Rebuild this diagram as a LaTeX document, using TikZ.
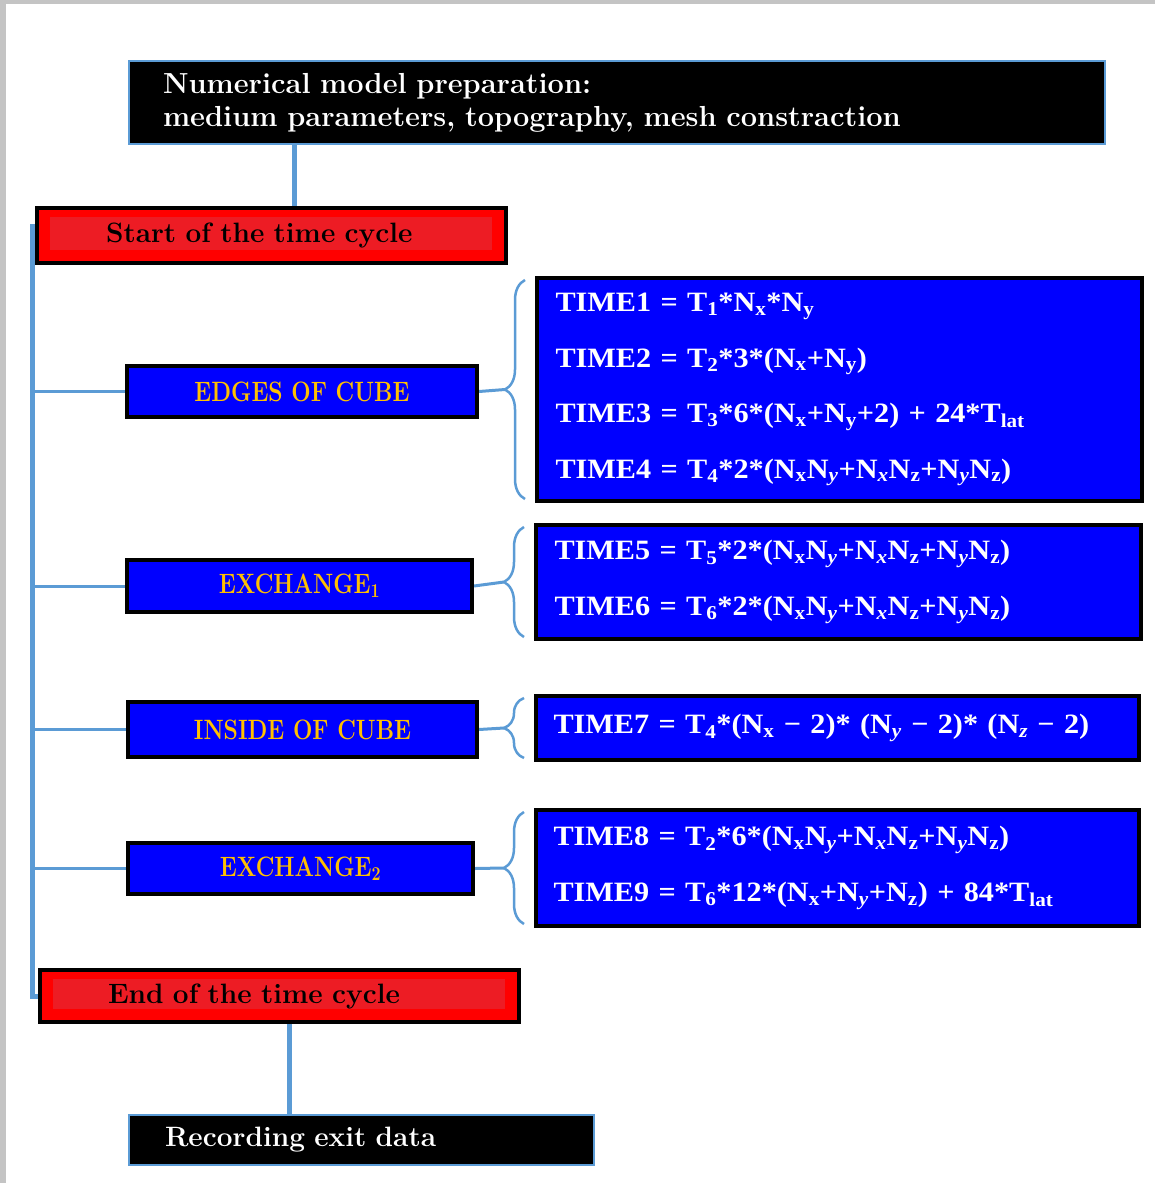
\documentclass[tikz,border=0pt]{standalone}
\usepackage{fontspec}
\usepackage{graphicx}
\newfontfamily\formfont[FakeStretch=1.08]{Liberation Serif}
\usetikzlibrary{positioning, calc, backgrounds, decorations.pathreplacing}
\definecolor{LinkBlue}{HTML}{5B9BD5}
\definecolor{BoxBlue}{HTML}{0000FF}
\definecolor{Gold}{HTML}{FFC000}
\definecolor{BoxRed}{HTML}{FF0000}
\definecolor{InnerRed}{HTML}{ED1C24}
\definecolor{Frame}{HTML}{C4C4C4}
\newcommand{\lo}[1]{\textsubscript{#1}}
\newcommand{\li}[1]{\textsubscript{\textit{#1}}}
\newcommand{\mn}{\symbol{"2212}}
\newcommand{\narrow}[1]{\scalebox{0.82}[1]{#1}}
\tikzset{
    blackbox/.style={rectangle, fill=black, draw=LinkBlue, line width=1.2pt, text=white, align=left, inner xsep=0pt, font=\fontsize{28}{33}\selectfont\bfseries},
    redbox/.style={rectangle, fill=BoxRed, draw=black, line width=4pt, text=black, align=left, inner xsep=0pt, font=\fontsize{28}{32}\selectfont\bfseries,
        path picture={\fill[InnerRed] ([shift={(13,9)}]path picture bounding box.north west) rectangle ([shift={(-14,-13)}]path picture bounding box.south east);}},
    bluebox/.style={rectangle, fill=BoxBlue, draw=black, line width=4pt, text=Gold, font=\fontsize{28}{32}\selectfont\bfseries},
    timebox/.style={rectangle, fill=BoxBlue, draw=black, line width=4pt, text=white, align=left, inner xsep=0pt, text width=568pt, font=\formfont\fontsize{28}{55.5}\selectfont\bfseries},
    link/.style={draw=LinkBlue, line width=5pt},
    branch/.style={draw=LinkBlue, line width=3pt},
    bracket/.style={draw=LinkBlue, line width=2.5pt, decorate, decoration={brace, amplitude=20pt}},
}

\begin{document}
\begin{tikzpicture}[x=1pt, y=-1pt]
    \useasboundingbox (0,0) rectangle (1155,1183);
    \fill[Frame] (0,0) rectangle (1155,4);
    \fill[Frame] (0,0) rectangle (6,1183);

    % main chain
    \node[blackbox, minimum width=976pt, minimum height=83pt, text width=908pt, font=\fontsize{29}{33}\selectfont\bfseries] (prep) at (617,102.5)
        {Numerical model preparation:\\ medium parameters, topography, mesh constraction};
    \node[redbox, minimum width=469pt, minimum height=55pt, text width=331pt] (start) at (271.5,235.5) {Start of the time cycle};
    \node[redbox, minimum width=479pt, minimum height=52pt, text width=343pt] (end) at (279.5,996) {End of the time cycle};
    \node[blackbox, minimum width=465pt, minimum height=50pt, text width=393pt] (rec) at (361.5,1140) {Recording exit data};

    % stages of the cycle
    \node[bluebox, minimum width=350pt, minimum height=51pt] (edges) at (302,391.5) {\narrow{EDGES OF CUBE}};
    \node[bluebox, minimum width=345pt, minimum height=52pt] (exch1) at (299.5,586) {\narrow{EXCHANGE\textsubscript{1}}};
    \node[bluebox, minimum width=349pt, minimum height=55pt] (inside) at (302.5,729.5) {\narrow{INSIDE OF CUBE}};
    \node[bluebox, minimum width=345pt, minimum height=51pt] (exch2) at (300.5,868.5) {\narrow{EXCHANGE\textsubscript{2}}};

    % time estimates
    \node[timebox, minimum width=605pt, minimum height=223pt] (t1) at (839.5,389.5)
        {TIME1 = T\lo{1}*N\lo{x}*N\lo{y}\\
         TIME2 = T\lo{2}*3*(N\lo{x}+N\lo{y})\\
         TIME3 = T\lo{3}*6*(N\lo{x}+N\lo{y}+2) + 24*T\lo{lat}\\
         TIME4 = T\lo{4}*2*(N\lo{x}N\li{y}+N\li{x}N\lo{z}+N\li{y}N\lo{z})};
    \node[timebox, minimum width=605pt, minimum height=114pt] (t2) at (838.5,582)
        {TIME5 = T\lo{5}*2*(N\lo{x}N\li{y}+N\li{x}N\lo{z}+N\li{y}N\lo{z})\\
         TIME6 = T\lo{6}*2*(N\lo{x}N\li{y}+N\li{x}N\lo{z}+N\li{y}N\lo{z})};
    \node[timebox, minimum width=603pt, minimum height=64pt] (t3) at (837.5,728)
        {TIME7 = T\lo{4}*(N\lo{x} \mn{} 2)* (N\li{y} \mn{} 2)* (N\li{z} \mn{} 2)};
    \node[timebox, minimum width=603pt, minimum height=116pt] (t4) at (837.5,868)
        {TIME8 = T\lo{2}*6*(N\lo{x}N\li{y}+N\li{x}N\lo{z}+N\li{y}N\lo{z})\\
         TIME9 = T\lo{6}*12*(N\lo{x}+N\li{y}+N\lo{z}) + 84*T\lo{lat}};

    \coordinate (tr) at (32,0);
    \coordinate (c1) at (294,208);
    \coordinate (c2) at (289,1022);
    \foreach \t in {1,...,4} {
        \coordinate (b\t) at ([xshift=-30pt]t\t.west);
    }

    \begin{scope}[on background layer]
        \draw[link] (c1) -- (c1 |- prep.south);
        \draw[link] (c2) -- (c2 |- rec.north);
        \draw[link] ([yshift=9pt]start.west) -- ([yshift=9pt]start.west -| tr) -- (end.west -| tr) -- (end.west);
        \foreach \s/\t in {edges/1, exch1/2, inside/3, exch2/4} {
            \draw[branch] (\s.west) -- (\s.west -| tr);
            \draw[branch] (\s.east) -- (b\t);
            \draw[bracket] ([shift={(-10,-4)}]t\t.south west) -- ([shift={(-10,4)}]t\t.north west);
        }
    \end{scope}
\end{tikzpicture}
\end{document}
